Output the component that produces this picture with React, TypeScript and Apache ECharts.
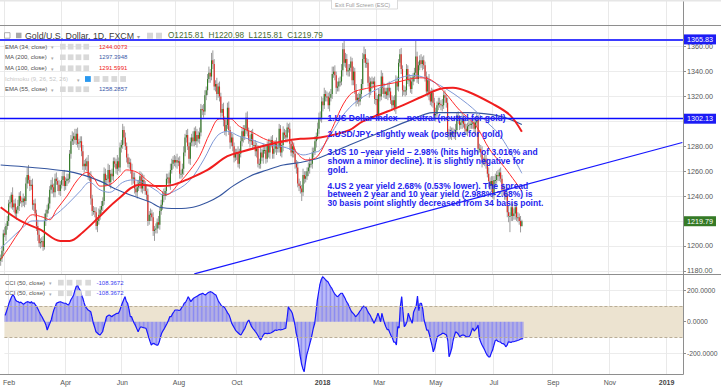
import React, { useEffect, useRef } from "react";
import * as echarts from "echarts";

// ---------------- DATA ----------------
const START_DATE = "2017-01-27"; // first daily bar (weekdays only)
const TOTAL_BARS = 515; // visible bar slots incl. empty future space
const FIRST_OPEN = 1188;

// daily closes, Jan 27 2017 .. Aug 1 2018 (one row per week)
const closes: number[] = [
  1190,
  1196, 1210, 1209, 1216, 1220,
  1234, 1235, 1241, 1231, 1234,
  1226, 1229, 1232, 1240, 1236,
  1235, 1238, 1236, 1250, 1257,
  1253, 1248, 1249, 1233, 1234,
  1226, 1216, 1209, 1202, 1203,
  1204, 1199, 1220, 1226, 1229,
  1234, 1245, 1249, 1247, 1243,
  1254, 1252, 1249, 1244, 1249,
  1253, 1256, 1248, 1252, 1254,
  1254, 1274, 1284, 1286, 1288,
  1285, 1290, 1282, 1283, 1284,
  1276, 1264, 1266, 1264, 1268,
  1256, 1256, 1238, 1228, 1228,
  1227, 1216, 1220, 1225, 1229,
  1232, 1236, 1258, 1253, 1254,
  1261, 1251, 1258, 1256, 1268,
  1266, 1262, 1268, 1263, 1279,
  1281, 1293, 1287, 1280, 1271,
  1266, 1267, 1261, 1254, 1255,
  1246, 1243, 1247, 1250, 1256,
  1246, 1253, 1249, 1244, 1241,
  1220, 1225, 1226, 1223, 1212,
  1213, 1214, 1219, 1217, 1228,
  1233, 1241, 1240, 1244, 1254,
  1255, 1250, 1261, 1266, 1269,
  1267, 1269, 1267, 1268, 1258,
  1258, 1262, 1275, 1287, 1289,
  1280, 1270, 1283, 1287, 1284,
  1292, 1284, 1289, 1286, 1291,
  1310, 1309, 1308, 1321, 1325,
  1334, 1339, 1336, 1349, 1346,
  1328, 1330, 1322, 1328, 1320,
  1307, 1310, 1301, 1292, 1297,
  1311, 1293, 1283, 1287, 1280,
  1271, 1274, 1275, 1266, 1274,
  1284, 1292, 1288, 1294, 1303,
  1292, 1285, 1284, 1290, 1281,
  1281, 1276, 1278, 1266, 1266,
  1275, 1271, 1277, 1277, 1270,
  1281, 1275, 1282, 1285, 1274,
  1278, 1282, 1278, 1279, 1294,
  1275, 1281, 1291, 1289, 1287,
  1295, 1294, 1282, 1275, 1280,
  1274, 1266, 1263, 1250, 1248,
  1246, 1243, 1257, 1254, 1256,
  1260, 1263, 1266, 1266, 1275,
  1276, 1284, 1288, 1294, 1303,
  1303, 1316, 1313, 1322, 1320,
  1320, 1313, 1319, 1322, 1338,
  1340, 1337, 1327, 1328, 1332,
  1332, 1341, 1358, 1347, 1350,
  1340, 1341, 1343, 1348, 1333,
  1340, 1325, 1317, 1319, 1316,
  1322, 1330, 1350, 1354, 1347,
  1347, 1331, 1324, 1332, 1330,
  1332, 1318, 1318, 1305, 1322,
  1320, 1336, 1327, 1322, 1324,
  1321, 1327, 1324, 1317, 1313,
  1317, 1311, 1332, 1328, 1347,
  1354, 1342, 1325, 1324, 1325,
  1342, 1333, 1333, 1326, 1332,
  1336, 1339, 1352, 1334, 1345,
  1349, 1346, 1349, 1345, 1336,
  1324, 1333, 1322, 1316, 1323,
  1315, 1305, 1306, 1313, 1315,
  1314, 1313, 1313, 1321, 1319,
  1315, 1290, 1291, 1289, 1291,
  1291, 1290, 1293, 1304, 1302,
  1297, 1299, 1302, 1298, 1294,
  1292, 1296, 1297, 1298, 1298,
  1299, 1294, 1299, 1301, 1278,
  1278, 1275, 1268, 1268, 1270,
  1266, 1258, 1252, 1248, 1252,
  1241, 1253, 1253, 1257, 1256,
  1259, 1254, 1245, 1244, 1241,
  1240, 1227, 1224, 1224, 1231,
  1224, 1226, 1231, 1223, 1223,
  1220, 1215.81, 1219.79,
];

// upper wick above body top, per bar
const wickUp: number[] = [
  3,
  4, 3, 5, 2, 4, 3, 5, 2, 6, 3, 4, 2, 5, 3, 4, 3, 4, 2, 5, 6, 8, 3, 4, 5, 3,
  4, 3, 5, 4, 3, 3, 4, 6, 3, 4, 5, 3, 4, 6, 3, 4, 5, 3, 4, 3, 3, 4, 5, 3, 4,
  4, 3, 5, 6, 3, 6, 4, 5, 3, 4, 4, 5, 3, 4, 3, 5, 3, 4, 3, 4, 3, 4, 3, 5, 3,
  4, 3, 5, 4, 3, 5, 4, 3, 4, 3, 3, 4, 5, 3, 4, 4, 5, 3, 4, 3, 3, 4, 3, 5, 4,
  4, 3, 5, 3, 4, 3, 5, 4, 3, 4, 5, 3, 4, 3, 4, 3, 4, 3, 5, 3, 4, 3, 5, 3, 4,
  3, 4, 5, 4, 3, 4, 3, 5, 3, 4, 3, 4, 5, 3, 4, 5, 3, 4, 3, 5, 3, 4, 5, 3, 4,
  4, 3, 5, 4, 3, 4, 5, 3, 6, 8, 4, 3, 5, 3, 4, 3, 4, 5, 3, 4, 4, 5, 3, 4, 3,
  3, 4, 3, 5, 4, 4, 3, 5, 3, 4, 5, 3, 4, 3, 4, 3, 4, 5, 3, 4, 4, 3, 5, 3, 4,
  3, 5, 4, 3, 4, 4, 3, 5, 3, 4, 3, 4, 5, 3, 4, 4, 3, 5, 3, 4, 3, 4, 3, 5, 4,
  4, 3, 5, 3, 4, 3, 4, 5, 3, 4, 3, 4, 3, 5, 4, 5, 4, 3, 5, 3, 4, 3, 5, 4, 6,
  4, 5, 3, 4, 3, 4, 5, 5, 8, 5, 4, 5, 3, 4, 3, 4, 3, 5, 3, 4, 3, 4, 5, 6, 4,
  4, 3, 5, 3, 4, 3, 4, 5, 3, 4, 4, 5, 3, 4, 3, 3, 4, 5, 3, 4, 3, 4, 5, 4, 3,
  4, 5, 3, 4, 3, 4, 3, 5, 3, 4, 3, 4, 13, 4, 3, 4, 5, 3, 4, 3, 4, 3, 5, 3, 4,
  3, 4, 5, 3, 4, 4, 3, 5, 3, 4, 3, 4, 3, 5, 4, 4, 3, 5, 3, 4, 3, 4, 5, 3, 4,
  4, 3, 5, 3, 4, 3, 4, 3, 5, 4, 4, 3, 5, 3, 4, 3, 4, 5, 3, 4, 4, 3, 5, 3, 4,
  3, 4, 3, 5, 4, 4, 3, 5, 3, 4, 3, 4, 5, 3, 4,
  3, 4, 1.19,
];

// lower wick below body bottom, per bar
const wickDn: number[] = [
  4,
  3, 4, 2, 5, 3, 4, 3, 5, 2, 4, 3, 5, 3, 4, 2, 4, 3, 5, 3, 4, 3, 4, 3, 4, 5,
  3, 4, 5, 3, 4, 4, 3, 2, 4, 3, 3, 4, 3, 5, 4, 4, 3, 5, 3, 4, 3, 5, 4, 3, 4,
  4, 3, 4, 3, 5, 3, 4, 3, 5, 4, 4, 3, 5, 3, 4, 3, 4, 5, 4, 3, 4, 3, 5, 3, 4,
  3, 4, 3, 5, 4, 4, 3, 5, 3, 4, 3, 4, 5, 3, 4, 4, 3, 5, 3, 4, 3, 4, 3, 5, 4,
  4, 3, 5, 3, 4, 3, 4, 5, 3, 4, 4, 3, 5, 3, 4, 8, 3, 4, 3, 4, 3, 4, 5, 3, 4,
  4, 3, 5, 3, 4, 3, 4, 5, 3, 4, 4, 3, 5, 3, 4, 3, 4, 5, 3, 4, 4, 3, 5, 3, 4,
  3, 4, 5, 3, 4, 4, 3, 5, 3, 4, 3, 4, 5, 3, 4, 4, 3, 5, 3, 4, 3, 4, 5, 3, 4,
  4, 3, 5, 3, 4, 3, 4, 5, 3, 4, 4, 3, 5, 3, 4, 3, 4, 5, 3, 4, 4, 3, 5, 3, 4,
  3, 4, 5, 3, 4, 4, 3, 5, 3, 4, 3, 4, 5, 3, 4, 4, 3, 5, 3, 4, 3, 4, 5, 3, 4,
  4, 7, 3, 4, 3, 3, 4, 5, 3, 4, 4, 3, 5, 3, 4, 3, 4, 5, 3, 4, 4, 3, 5, 3, 4,
  3, 4, 5, 3, 4, 4, 3, 5, 3, 4, 3, 4, 5, 3, 4, 4, 3, 5, 3, 4, 3, 4, 5, 3, 4,
  4, 3, 5, 3, 4, 3, 4, 5, 3, 4, 4, 3, 5, 3, 4, 3, 4, 5, 3, 4, 4, 3, 5, 3, 4,
  3, 4, 5, 3, 4, 4, 3, 5, 3, 4, 3, 4, 5, 3, 4, 4, 3, 5, 3, 4, 3, 4, 5, 3, 4,
  4, 3, 5, 3, 4, 3, 4, 5, 3, 4, 4, 3, 5, 3, 4, 3, 4, 5, 3, 4, 4, 3, 5, 3, 4,
  3, 4, 5, 3, 4, 4, 3, 5, 3, 4, 3, 4, 5, 3, 4, 4, 3, 5, 3, 4, 3, 4, 5, 3, 4,
  4, 3, 5, 3, 4, 3, 4, 5, 13, 4, 4, 3, 5, 3, 4,
  3, 5, 0,
];

// CCI(50, close), per bar
const cciValues: number[] = [
  40,
  64, 90, 118, 140, 160, 171, 160, 139, 130, 128, 122, 125, 118, 112, 118,
  124, 128, 126, 120, 128, 118, 120, 108, 96, 80, 62, 45, 32, 15, 0,
  -21, -53, -30, -10, 11, 45, 75, 95, 118, 122, 125, 128, 124, 120, 118,
  118, 112, 107, 120, 140, 155, 171, 200, 225, 235, 213, 200, 171, 150, 120,
  96, 85, 75, 70, 64, 30, -10, -35, -64, -72, -80, -85, -75, -64, -30,
  0, 32, 38, 43, 38, 32, 40, 45, 50, 54, 54, 70, 96, 120, 140,
  160, 130, 118, 80, 32, 32, 10, -10, -25, -45, -64, -45, -32, -35, -38,
  -40, -42, -70, -100, -125, -149, -140, -138, -145, -149, -149, -130, -96, -70, -55,
  -42, -25, -10, 10, 32, 32, 50, 62, 75, 75, 75, 72, 75, 90, 100,
  118, 125, 140, 160, 145, 128, 140, 150, 155, 160, 165, 170, 175, 178, 182,
  176, 171, 178, 185, 190, 192, 188, 182, 176, 171, 150, 130, 118, 105, 96,
  96, 85, 70, 55, 43, 20, -10, -25, -40, -55, -64, -72, -80, -85, -70,
  -55, -42, -20, 0, 11, -10, -30, -42, -52, -64, -75, -90, -105, -117, -100,
  -85, -74, -74, -76, -74, -74, -70, -65, -60, -53, -55, -53, -50, -53, -50,
  -48, -45, -42, 20, 96, 80, 70, 54, 20, -20, -74, -110, -160, -220, -270,
  -300, -319, -260, -210, -181, -150, -117, -80, -40, -10, 60, 139, 190, 240, 270,
  288, 280, 270, 262, 256, 240, 225, 213, 195, 180, 170, 160, 165, 175, 182,
  182, 165, 150, 130, 118, 100, 80, 64, 55, 45, 32, 40, 50, 64, 75,
  90, 100, 96, 90, 70, 55, 43, 25, 10, -10, 10, 30, 54, 30, 0,
  54, 20, -10, -32, -50, -50, -70, -90, -106, -130, -130, -149, -30, -40, 100,
  160, 60, -32, -20, 0, 54, 30, 10, -10, 60, 80, 100, 164, 70, 118,
  118, 80, 11, -20, -53, -53, -80, -117, -150, -192, -170, -130, -96, -90, -85,
  -80, -74, -74, -80, -85, -120, -224, -200, -170, -120, -90, -64, -70, -80, -96,
  -90, -85, -85, -90, -96, -96, -96, -85, -60, -40, -60, -50, -40, -21, -106,
  -130, -149, -165, -181, -200, -215, -224, -224, -200, -181, -150, -120, -117, -125, -128,
  -130, -138, -140, -145, -160, -150, -128, -130, -132, -128, -128, -125, -122, -120, -117,
  -112, -110, -108.37,
];

// moving averages: [bar index, value]
const ema34: number[][] = [
  [0, 1189], [7, 1200], [15, 1213], [24, 1225], [32, 1223], [37, 1221], [42, 1229], [50, 1240],
  [58, 1253], [65, 1259], [70, 1255], [75, 1248], [82, 1249], [90, 1256], [95, 1261], [103, 1259],
  [110, 1253], [120, 1245], [125, 1241], [135, 1251], [143, 1261], [150, 1272], [158, 1291],
  [165, 1302], [173, 1302], [180, 1296], [190, 1291], [201, 1285], [211, 1283], [218, 1285],
  [223, 1275], [231, 1269], [239, 1272], [248, 1290], [263, 1321], [278, 1327], [297, 1331],
  [316, 1335], [325, 1333], [335, 1323], [346, 1309], [358, 1297], [369, 1277], [380, 1263],
  [393, 1244.0073],
];
const ma200: number[][] = [
  [0, 1265], [24, 1263], [50, 1260], [62, 1257], [75, 1252], [88, 1245], [100, 1240], [113, 1235],
  [120, 1231], [133, 1230], [145, 1231], [156, 1235], [165, 1240], [175, 1248], [188, 1256],
  [201, 1261], [213, 1265], [226, 1267], [241, 1271], [263, 1281], [286, 1291], [309, 1301],
  [326, 1307], [352, 1307], [377, 1304], [393, 1297.3948],
];
const ma100: number[][] = [
  [0, 1231], [15, 1220], [30, 1213], [45, 1204], [52, 1204], [62, 1211], [75, 1224], [88, 1237],
  [105, 1249], [120, 1248], [130, 1249], [140, 1253], [156, 1261], [171, 1272], [183, 1276],
  [201, 1281], [213, 1284], [226, 1286], [241, 1287], [263, 1293], [273, 1300], [299, 1311],
  [318, 1320], [331, 1326], [341, 1327], [352, 1324], [371, 1314], [384, 1305], [393, 1291.5991],
];
const ema55: number[][] = [
  [0, 1198], [7, 1205], [15, 1213], [24, 1220], [32, 1220], [40, 1224], [50, 1233], [60, 1244],
  [67, 1251], [75, 1245], [82, 1243], [92, 1251], [100, 1253], [107, 1251], [118, 1244],
  [122, 1241], [133, 1245], [143, 1253], [153, 1269], [163, 1288], [171, 1292], [180, 1288],
  [190, 1285], [201, 1281], [211, 1280], [220, 1277], [228, 1273], [236, 1275], [241, 1277],
  [263, 1311], [286, 1327], [311, 1337], [331, 1329], [352, 1314], [367, 1299], [377, 1288],
  [393, 1258.2857],
];

const resistance = 1365.83;
const support = 1302.13;
const lastPrice = 1219.79;
const trendLine: number[][] = [[146, 1177.5], [514, 1283]];
// price ticks that sit fully behind the level boxes in the reference
const hiddenPriceTicks = [1300, 1220];

const gridMonths = ["2017-02", "2017-04", "2017-06", "2017-08", "2017-10", "2017-12", "2018-01",
  "2018-03", "2018-05", "2018-07", "2018-09", "2018-11", "2019-01"];
const labelMonths = ["2017-02", "2017-04", "2017-06", "2017-08", "2017-10", "2018-01",
  "2018-03", "2018-05", "2018-07", "2018-09", "2018-11", "2019-01"];
const monthNames = ["Jan", "Feb", "Mar", "Apr", "May", "Jun", "Jul", "Aug", "Sep", "Oct", "Nov", "Dec"];

const legendRows = [
  { name: "EMA (34, close)", value: "1244.0073", color: "#f0201a" },
  { name: "MA (200, close)", value: "1297.3948", color: "#3b5aa8" },
  { name: "MA (100, close)", value: "1291.5991", color: "#f0201a" },
  { name: "Ichimoku (9, 26, 52, 26)", value: "", color: "#c4c4c4" },
  { name: "EMA (55, close)", value: "1258.2857", color: "#3b5aa8" },
];
const cciLegend = { name: "CCI (50, close)", value: "-108.3672" };
const titleText = "Gold/U.S. Dollar, 1D, FXCM";
const ohlcText = "O1215.81  H1220.98  L1215.81  C1219.79";

const notes: string[][] = [
  ["1.US Dollar index \u2013 neutral (neutral for gold)"],
  ["2.USD/JPY- slightly weak (positive for gold)"],
  ["3.US 10 \u2013year yield \u2013 2.98% (hits high of 3.016% and", "shown a minor decline). It is slightly negative for", "gold."],
  ["4.US 2 year yield 2.68% (0.53% lower). The spread", "between 2 year and 10 year yield (2.988%-2.68%) is", "30 basis point slightly decreased from 34 basis point."],
];

// ---------------- BUILD ----------------
const FONT = '"Liberation Sans", Arial, sans-serif';

function buildDates(): string[] {
  const out: string[] = [];
  const d = new Date(START_DATE + "T00:00:00Z");
  while (out.length < TOTAL_BARS) {
    const wd = d.getUTCDay();
    if (wd !== 0 && wd !== 6) out.push(d.toISOString().slice(0, 10));
    d.setUTCDate(d.getUTCDate() + 1);
  }
  return out;
}

const dates = buildDates();
const firstIdxOfMonth = new Map<string, number>();
dates.forEach((s, i) => {
  const m = s.slice(0, 7);
  if (!firstIdxOfMonth.has(m)) firstIdxOfMonth.set(m, i);
});
const gridSet = new Set<number>(gridMonths.map((m) => firstIdxOfMonth.get(m)!).filter((v) => v !== undefined && v > 0));
const labelSet = new Set<number>(labelMonths.map((m) => firstIdxOfMonth.get(m)!).filter((v) => v !== undefined));

const candles = closes.map((c, i) => {
  const o = i === 0 ? FIRST_OPEN : closes[i - 1];
  return [i, o, c, Math.min(o, c) - (wickDn[i] ?? 3), Math.max(o, c) + (wickUp[i] ?? 3)];
});

function catAxis(gridIndex: number, withLabels: boolean) {
  return {
    type: "category",
    gridIndex,
    data: dates,
    boundaryGap: true,
    axisLine: { show: false },
    axisTick: { show: false },
    axisLabel: withLabels
      ? {
          show: true,
          interval: (i: number) => labelSet.has(i),
          margin: 5,
          fontSize: 7,
          color: "#555",
          fontFamily: FONT,
          formatter: (v: string) => {
            const m = parseInt(v.slice(5, 7), 10);
            if (m === 1) return "{y|" + v.slice(0, 4) + "}";
            return monthNames[m - 1];
          },
          rich: { y: { fontWeight: "bold", fontSize: 7, color: "#444", fontFamily: FONT } },
        }
      : { show: false },
    splitLine: { show: true, interval: (i: number) => gridSet.has(i), lineStyle: { color: "#e9e9e9", width: 1 } },
  };
}

function txt(x: number, y: number, text: string, fill: string, size: number, extra: any = {}) {
  return {
    type: "text",
    x,
    y,
    z: 100,
    silent: true,
    style: { text, fill, fontSize: size, fontFamily: FONT, verticalAlign: "middle", align: "left", ...extra },
  };
}
function box(x: number, y: number, w: number, h: number, fill: string, stroke?: string) {
  return {
    type: "rect",
    z: 100,
    silent: true,
    shape: { x, y, width: w, height: h },
    style: { fill, stroke: stroke || "none", lineWidth: stroke ? 0.8 : 0 },
  };
}
function hline(x1: number, x2: number, y: number, color: string) {
  return { type: "line", z: 90, silent: true, shape: { x1, y1: y, x2, y2: y }, style: { stroke: color, lineWidth: 1 } };
}

function buildGraphics() {
  const els: any[] = [];
  // frame
  els.push(box(0, 0, 721, 1.5, "#e6e6e6"));
  els.push(hline(0, 721, 25.5, "#8e8e8e"));
  els.push(hline(0, 721, 274.5, "#8e8e8e"));
  els.push(hline(0, 683.5, 374.5, "#8e8e8e"));
  els.push({ type: "line", z: 90, silent: true, shape: { x1: 683.5, y1: 0, x2: 683.5, y2: 374.5 }, style: { stroke: "#8e8e8e", lineWidth: 1 } });
  // exit full screen tooltip
  els.push(box(331.5, -1, 66, 10, "#ffffff", "#d2d2d2"));
  els.push(txt(335, 4.5, "Exit Full Screen (ESC)", "#9a9a9a", 5.5));

  // title row
  const ty = 35.7;
  els.push(box(4.5, ty - 3, 5.5, 5.5, "#ffffff", "#9a9a9a"));
  els.push(box(16, ty - 3, 5.5, 5.5, "#a9a9a9"));
  els.push(txt(25, ty, titleText, "#3a3a3a", 8.8));
  els.push(txt(137, ty + 0.5, "\u25BE", "#999", 6, { fontFamily: "DejaVu Sans" }));
  els.push(box(147, ty - 3, 6, 6, "#d6d6d6"));
  els.push(box(156, ty - 3, 6, 6, "#d6d6d6"));
  els.push(txt(168, ty, ohlcText, "#476b35", 8.2));

  // indicator legend
  const rowsY = [46.7, 57.3, 68.3, 79, 89.3];
  legendRows.forEach((r, k) => {
    const y = rowsY[k];
    const isIchi = r.value === "";
    els.push(txt(5, y, r.name, isIchi ? "#c6c6c6" : "#4d4d4d", 6));
    const arrowX = isIchi ? 77 : 51;
    els.push(txt(arrowX, y + 0.5, "\u25BE", "#aaa", 5, { fontFamily: "DejaVu Sans" }));
    if (isIchi) {
      [85, 93.8, 102.6, 111.4, 120.2].forEach((x, j) => els.push(box(x, y - 2.9, 5.8, 5.8, j === 0 ? "#2a98ef" : "#d9d9d9")));
    } else {
      [60, 67.8, 75.6, 83.4].forEach((x) => els.push(box(x, y - 2.9, 5.7, 5.7, "#d9d9d9")));
      els.push(txt(99, y, r.value, r.color, 6));
    }
  });

  // CCI legend (twice)
  [282.7, 293.3].forEach((y) => {
    els.push(txt(5, y, cciLegend.name, "#4d4d4d", 6));
    els.push(txt(49, y + 0.5, "\u25BE", "#aaa", 5, { fontFamily: "DejaVu Sans" }));
    [58, 66.7, 76, 85.3].forEach((x) => els.push(box(x, y - 2.9, 5.7, 5.7, "#d9d9d9")));
    els.push(txt(96.5, y, cciLegend.value, "#3a3af0", 6));
  });

  // annotation text
  const noteY = [[118.3], [134.3], [152.3, 161, 169.7], [185.7, 194.3, 203]];
  notes.forEach((para, p) =>
    para.forEach((line, l) => {
      els.push(txt(327.5, noteY[p][l], line, "#2424ee", 8.5, { fontWeight: "bold" }));
    })
  );
  return els;
}

function levelLine(value: number, color: string, width: number, boxColor: string, showLine = true) {
  return {
    yAxis: value,
    lineStyle: { color: showLine ? color : "rgba(0,0,0,0)", width, type: "solid" },
    label: {
      show: true,
      position: "end",
      distance: 1,
      formatter: value.toFixed(2),
      color: "#ffffff",
      backgroundColor: boxColor,
      padding: [1, 3, 1, 3],
      fontSize: 7.2,
      lineHeight: 8,
      fontFamily: FONT,
    },
  };
}

function buildOption() {
  return {
    animation: false,
    backgroundColor: "#ffffff",
    textStyle: { fontFamily: FONT },
    grid: [
      { left: 0, right: 38, top: 0, height: 25 },
      { left: 0, right: 38, top: 25, height: 249 },
      { left: 0, right: 38, top: 274, height: 100 },
    ],
    xAxis: [catAxis(0, false), catAxis(1, false), catAxis(2, true)],
    yAxis: [
      { type: "value", gridIndex: 0, min: 0, max: 1, show: false },
      {
        type: "value",
        gridIndex: 1,
        position: "right",
        min: 1177.4,
        max: 1377.4,
        minInterval: 20,
        maxInterval: 20,
        axisLine: { show: false },
        axisTick: { show: true, length: 3, lineStyle: { color: "#8e8e8e" } },
        axisLabel: {
          color: "#555",
          fontSize: 7.2,
          margin: 4,
          fontFamily: FONT,
          showMinLabel: false,
          showMaxLabel: false,
          formatter: (v: number) => (hiddenPriceTicks.some((t) => Math.abs(t - v) < 0.01) ? "" : v.toFixed(2)),
        },
        splitLine: { show: true, showMinLine: false, showMaxLine: false, lineStyle: { color: "#ececec" } },
      },
      {
        type: "value",
        gridIndex: 2,
        position: "right",
        min: -334,
        max: 305,
        minInterval: 200,
        maxInterval: 200,
        axisLine: { show: false },
        axisTick: { show: true, length: 3, lineStyle: { color: "#8e8e8e" } },
        axisLabel: { color: "#555", fontSize: 6.8, margin: 4, fontFamily: FONT, showMinLabel: false, showMaxLabel: false, formatter: (v: number) => v.toFixed(4) },
        splitLine: { show: true, showMinLine: false, showMaxLine: false, lineStyle: { color: "#ececec" } },
      },
    ],
    series: [
      {
        type: "custom",
        name: "Gold",
        xAxisIndex: 1,
        yAxisIndex: 1,
        data: candles,
        encode: { x: 0, y: [1, 2, 3, 4] },
        z: 2,
        silent: true,
        renderItem: (_p: any, api: any) => {
          const i = api.value(0);
          const o = api.value(1);
          const c = api.value(2);
          const lo = api.value(3);
          const hi = api.value(4);
          const pO = api.coord([i, o]);
          const pC = api.coord([i, c]);
          const pL = api.coord([i, lo]);
          const pH = api.coord([i, hi]);
          const x = pO[0];
          const top = Math.min(pO[1], pC[1]);
          const h = Math.max(1, Math.abs(pO[1] - pC[1]));
          const w = 1.1;
          return {
            type: "group",
            children: [
              { type: "line", shape: { x1: x, y1: pH[1], x2: x, y2: pL[1] }, style: { stroke: "#9c9c9c", lineWidth: 1 } },
              { type: "rect", shape: { x: x - w / 2, y: top, width: w, height: h }, style: { fill: c >= o ? "#2f7a22" : "#e3231c" } },
            ],
          };
        },
      },
      {
        type: "line",
        name: "MA200",
        xAxisIndex: 1,
        yAxisIndex: 1,
        data: ma200,
        smooth: 0.35,
        showSymbol: false,
        z: 3,
        silent: true,
        lineStyle: { color: "#34559f", width: 1.1 },
        markLine: {
          silent: true,
          symbol: "none",
          animation: false,
          label: { show: false },
          lineStyle: { color: "#1616ff", width: 1.2, type: "solid" },
          data: [[{ coord: trendLine[0] }, { coord: trendLine[1] }]],
        },
      },
      {
        type: "line",
        name: "EMA55",
        xAxisIndex: 1,
        yAxisIndex: 1,
        data: ema55,
        smooth: 0.35,
        showSymbol: false,
        z: 3,
        silent: true,
        lineStyle: { color: "#7f98d6", width: 1 },
        markLine: {
          silent: true,
          symbol: "none",
          animation: false,
          data: [
            levelLine(resistance, "#3c3cff", 2, "#1c1cf5"),
            levelLine(support, "#0b0bff", 1.4, "#1c1cf5"),
            levelLine(lastPrice, "#000", 1, "#357a26", false),
          ],
        },
      },
      {
        type: "line",
        name: "MA100",
        xAxisIndex: 1,
        yAxisIndex: 1,
        data: ma100,
        smooth: 0.35,
        showSymbol: false,
        z: 3,
        silent: true,
        lineStyle: { color: "#f01e1e", width: 2 },
      },
      {
        type: "line",
        name: "EMA34",
        xAxisIndex: 1,
        yAxisIndex: 1,
        data: ema34,
        smooth: 0.35,
        showSymbol: false,
        z: 3,
        silent: true,
        lineStyle: { color: "#ff2a2a", width: 1 },
      },
      {
        type: "bar",
        name: "CCI hist",
        xAxisIndex: 2,
        yAxisIndex: 2,
        data: cciValues,
        barWidth: 1,
        z: 2,
        silent: true,
        itemStyle: { color: "#8a8af2" },
        markArea: {
          silent: true,
          itemStyle: { color: "#ece3d0" },
          data: [[{ yAxis: 100 }, { yAxis: -100 }]],
        },
        markLine: {
          silent: true,
          symbol: "none",
          label: { show: false },
          lineStyle: { color: "#b9ad96", width: 1, type: [3, 2] },
          data: [{ yAxis: 100 }, { yAxis: -100 }],
        },
      },
      {
        type: "line",
        name: "CCI",
        xAxisIndex: 2,
        yAxisIndex: 2,
        data: cciValues,
        showSymbol: false,
        z: 3,
        silent: true,
        lineStyle: { color: "#1818ff", width: 1.2 },
      },
    ],
    graphic: { elements: buildGraphics() },
  };
}

export default function App() {
  const ref = useRef<HTMLDivElement>(null);
  useEffect(() => {
    if (!ref.current) return;
    const chart = echarts.init(ref.current, undefined, { renderer: "svg" });
    chart.setOption(buildOption() as any);
    return () => chart.dispose();
  }, []);
  return <div ref={ref} style={{ position: "absolute", left: 0, top: 0, width: 721, height: 389 }} />;
}
